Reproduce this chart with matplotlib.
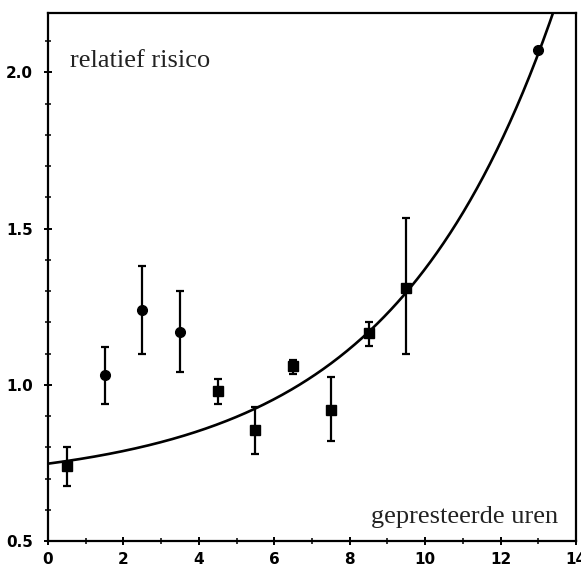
import numpy as np
import matplotlib
matplotlib.use("Agg")
import matplotlib.pyplot as plt
from matplotlib.ticker import MultipleLocator

# Relative risk per band of worked hours (circles and squares = two marker groups)
hours_circle = [1.5, 2.5, 3.5, 13.0]
risk_circle = [1.03, 1.24, 1.17, 2.07]
err_lo_circle = [0.94, 1.10, 1.04, 2.07]
err_hi_circle = [1.12, 1.38, 1.30, 2.07]

hours_square = [0.5, 4.5, 5.5, 6.5, 7.5, 8.5, 9.5]
risk_square = [0.74, 0.98, 0.855, 1.06, 0.92, 1.165, 1.31]
err_lo_square = [0.675, 0.94, 0.78, 1.035, 0.82, 1.125, 1.10]
err_hi_square = [0.80, 1.02, 0.93, 1.08, 1.025, 1.20, 1.535]

# Fitted exponential trend: a + b * exp(c * hours)
fit_a, fit_b, fit_c = 0.678, 0.0695, 0.23

x_ticks = [0, 2, 4, 6, 8, 10, 12, 14]
y_ticks = [0.5, 1.0, 1.5, 2.0]
y_labels = ["0.5", "1.0", "1.5", "2.0"]

fig = plt.figure(figsize=(5.81, 5.76), dpi=100)
ax = fig.add_axes([48 / 581, 35 / 576, 528 / 581, 528 / 576])

xs = np.linspace(0, 14, 400)
ax.plot(xs, fit_a + fit_b * np.exp(fit_c * xs), color="black", lw=1.9,
        solid_capstyle="round", zorder=2)

def draw_group(x, y, lo, hi, marker, size):
    y = np.array(y)
    yerr = [y - np.array(lo), np.array(hi) - y]
    ax.errorbar(x, y, yerr=yerr, fmt=marker, color="black", ms=size,
                ecolor="black", elinewidth=1.6, capsize=3.2, capthick=1.6,
                zorder=3)

draw_group(hours_circle, risk_circle, err_lo_circle, err_hi_circle, "o", 7)
draw_group(hours_square, risk_square, err_lo_square, err_hi_square, "s", 6.5)

ax.set_xlim(0, 14)
ax.set_ylim(0.5, 2.19)
ax.set_xticks(x_ticks)
ax.set_yticks(y_ticks)
ax.set_yticklabels(y_labels)
ax.xaxis.set_minor_locator(MultipleLocator(1))
ax.yaxis.set_minor_locator(MultipleLocator(0.1))
ax.tick_params(which="major", direction="inout", length=6, width=1.4,
               labelsize=11)
ax.tick_params(axis="y", which="major", pad=8)
ax.tick_params(axis="x", which="major", pad=5)
ax.tick_params(which="minor", direction="inout", length=4, width=1.1)
ax.tick_params(axis="x", which="both", top=False)
ax.tick_params(axis="y", which="both", right=False)
for lab in ax.get_xticklabels() + ax.get_yticklabels():
    lab.set_fontweight("bold")
    lab.set_family("DejaVu Sans")

for sp in ax.spines.values():
    sp.set_linewidth(1.6)

ax.text(22 / 528, 474 / 528, "relatief risico", transform=ax.transAxes,
        fontsize=19, family="Liberation Serif", ha="left", va="baseline",
        color="#222222")
ax.text(510 / 528, 18 / 528, "gepresteerde uren", transform=ax.transAxes,
        fontsize=19, family="Liberation Serif", ha="right", va="baseline",
        color="#222222")

fig.savefig("out.png", dpi=100)
